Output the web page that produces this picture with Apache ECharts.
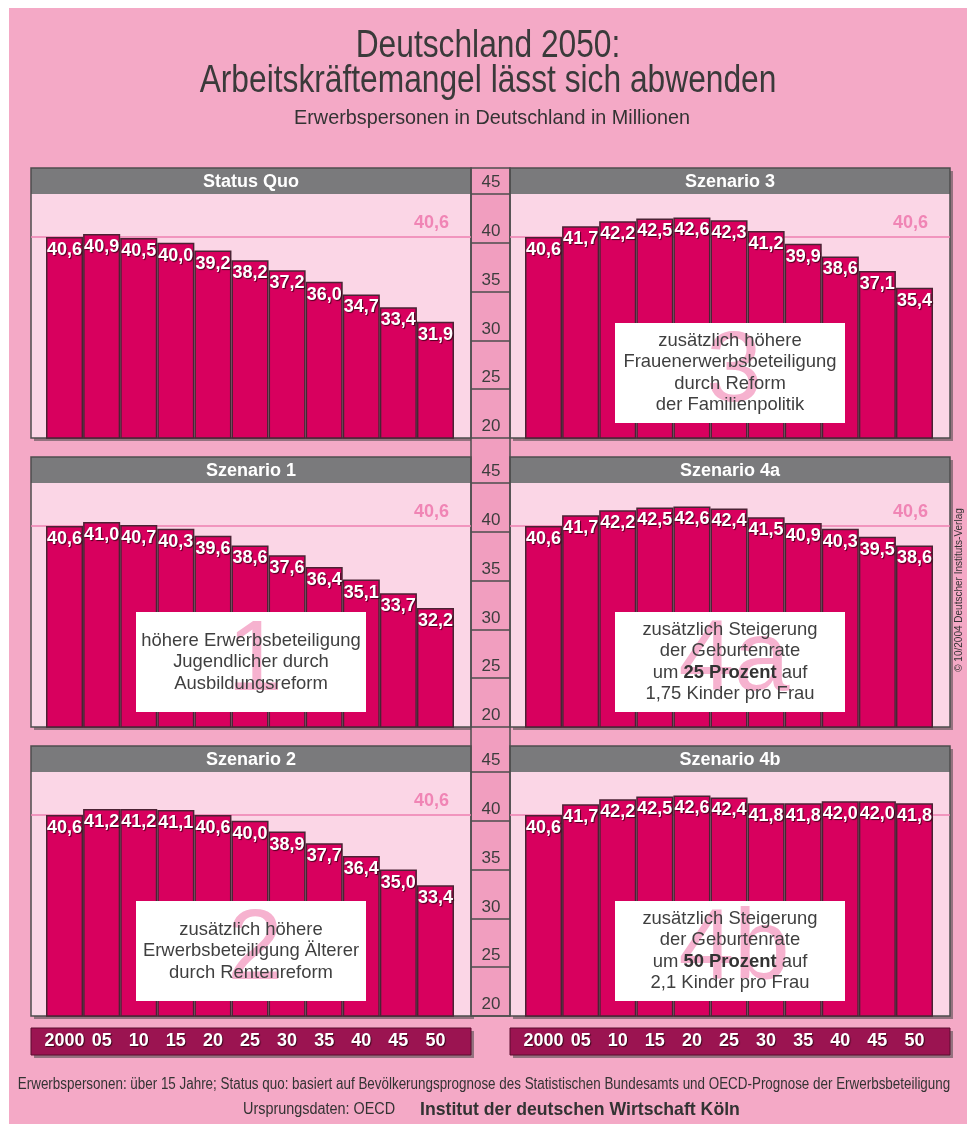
<!DOCTYPE html>
<html>
<head>
<meta charset="utf-8">
<title>Deutschland 2050</title>
<script src="https://cdn.jsdelivr.net/npm/echarts@6.0.0/dist/echarts.min.js"></script>
<style>
  html, body { margin: 0; padding: 0; background: #fff; }
  #chart { width: 967px; height: 1124px; }
</style>
</head>
<body>
<div id="chart"></div>
<script>
// x-Achse: Jahre
var years = ['2000', '05', '10', '15', '20', '25', '30', '35', '40', '45', '50'];
var refValue = 40.6;

// Erwerbspersonen in Deutschland in Millionen
var statusQuo  = [40.6, 40.9, 40.5, 40.0, 39.2, 38.2, 37.2, 36.0, 34.7, 33.4, 31.9];
var szenario1  = [40.6, 41.0, 40.7, 40.3, 39.6, 38.6, 37.6, 36.4, 35.1, 33.7, 32.2];
var szenario2  = [40.6, 41.2, 41.2, 41.1, 40.6, 40.0, 38.9, 37.7, 36.4, 35.0, 33.4];
var szenario3  = [40.6, 41.7, 42.2, 42.5, 42.6, 42.3, 41.2, 39.9, 38.6, 37.1, 35.4];
var szenario4a = [40.6, 41.7, 42.2, 42.5, 42.6, 42.4, 41.5, 40.9, 40.3, 39.5, 38.6];
var szenario4b = [40.6, 41.7, 42.2, 42.5, 42.6, 42.4, 41.8, 41.8, 42.0, 42.0, 41.8];

// Reihenfolge: links/rechts, zeilenweise
var panelTitles = ['Status Quo', 'Szenario 3', 'Szenario 1', 'Szenario 4a', 'Szenario 2', 'Szenario 4b'];
var panelData = [statusQuo, szenario3, szenario1, szenario4a, szenario2, szenario4b];
var panelMarks = ['', '3', '1', '4a', '2', '4b'];
var panelNotes = [
  null,
  ['zusätzlich höhere', 'Frauenerwerbsbeteiligung', 'durch Reform', 'der Familienpolitik'],
  ['höhere Erwerbsbeteiligung', 'Jugendlicher durch', 'Ausbildungsreform'],
  ['zusätzlich Steigerung', 'der Geburtenrate', 'um {b|25 Prozent} auf', '1,75 Kinder pro Frau'],
  ['zusätzlich höhere', 'Erwerbsbeteiligung Älterer', 'durch Rentenreform'],
  ['zusätzlich Steigerung', 'der Geburtenrate', 'um {b|50 Prozent} auf', '2,1 Kinder pro Frau']
];

// Layout
var COLS = [31, 510];
var ROWS = [168, 457, 746];
var PW = 440, HH = 26, PH = 244;
var BAR_PX = 408 / 11;
var XMIN = -0.5 - 15 / BAR_PX;
var XMAX = XMIN + PW / BAR_PX;

var FONT = '"Liberation Sans", Arial, sans-serif';

function fmt(v) { return v.toFixed(1).replace('.', ','); }

var chart = echarts.init(document.getElementById('chart'));

var grids = [], xAxes = [], yAxes = [], series = [];
var gfx = [];

// Hintergrund
gfx.push({ type: 'rect', z: -30, shape: { x: 9, y: 8, width: 958, height: 1116 }, style: { fill: '#f4a9c6' } });
// Mittlere Achsenspalte
gfx.push({ type: 'rect', z: -6, shape: { x: 471, y: 168, width: 39, height: 848 },
  style: { fill: '#f19ebf', stroke: '#4d4d4d', lineWidth: 1.5 } });

panelTitles.forEach(function (title, i) {
  var col = i % 2, row = Math.floor(i / 2);
  var px = COLS[col], py = ROWS[row];
  var isBottom = row === 2;
  var vals = panelData[i];

  grids.push({ left: px, top: py + HH, width: PW, height: PH });

  xAxes.push({
    gridIndex: i, type: 'value', min: XMIN, max: XMAX,
    show: isBottom,
    axisLine: { show: false, onZero: false }, axisTick: { show: false }, splitLine: { show: false },
    axisLabel: {
      show: isBottom,
      customValues: years.map(function (y, k) { return k; }),
      formatter: function (v) { return years[Math.round(v)]; },
      margin: 25, verticalAlign: 'middle',
      color: '#fff', fontWeight: 'bold', fontSize: 18, fontFamily: FONT,
      textShadowColor: 'rgba(40,0,15,0.8)', textShadowOffsetX: 1, textShadowOffsetY: 1, textShadowBlur: 1
    }
  });

  yAxes.push({
    gridIndex: i, type: 'value', min: 20, max: 45, interval: 5,
    position: col === 0 ? 'right' : 'left',
    show: col === 0,
    splitLine: { show: false },
    axisLine: { show: false, onZero: false },
    axisTick: { show: true, length: 39, lineStyle: { color: '#4d4d4d', width: 1.5 } },
    axisLabel: {
      margin: 20, align: 'center', verticalAlign: 'bottom', padding: [0, 0, 3, 0],
      color: '#3d3d3d', fontSize: 17, fontFamily: FONT
    }
  });

  series.push({
    type: 'bar', xAxisIndex: i, yAxisIndex: i, barWidth: BAR_PX,
    data: vals.map(function (v, k) { return [k, v]; }),
    itemStyle: { color: '#d8005e', borderColor: '#4a2334', borderWidth: 1.5 },
    label: {
      show: true, position: 'insideTop', distance: 4,
      color: '#fff', fontWeight: 'bold', fontSize: 18, fontFamily: FONT,
      textShadowColor: 'rgba(40,0,15,0.8)', textShadowOffsetX: 1, textShadowOffsetY: 1, textShadowBlur: 1,
      formatter: function (p) { return fmt(p.value[1]); }
    },
    markLine: {
      silent: true, symbol: 'none', z: 1, animation: false,
      data: [{ yAxis: refValue }],
      lineStyle: { color: '#ee7fb1', width: 1.5, type: 'solid' },
      label: {
        show: vals[vals.length - 1] < refValue,
        position: 'insideEndTop', formatter: fmt(refValue), padding: [0, 17, 0, 0],
        color: '#f085b5', fontWeight: 'bold', fontSize: 18, fontFamily: FONT
      }
    },
    animation: false
  });

  // Panelrahmen
  gfx.push({ type: 'rect', z: -10, shape: { x: px + 3, y: py + 3, width: PW, height: HH + PH }, style: { fill: 'rgba(70,70,70,0.55)' } });
  gfx.push({ type: 'rect', z: -9, shape: { x: px, y: py + HH, width: PW, height: PH }, style: { fill: '#fbd6e6' } });
  gfx.push({ type: 'rect', z: -9, shape: { x: px, y: py, width: PW, height: HH }, style: { fill: '#7a7a7c' } });
  gfx.push({ type: 'rect', z: -5, shape: { x: px, y: py, width: PW, height: HH + PH }, style: { fill: null, stroke: '#4d4d4d', lineWidth: 1.5 } });
  gfx.push({ type: 'text', z: -5, style: { x: px + PW / 2, y: py + HH / 2 + 1, text: title, fill: '#fff',
    font: 'bold 18px ' + FONT, align: 'center', verticalAlign: 'middle' } });

  // Erläuterungskasten
  if (panelNotes[i]) {
    var cx = px + 220, cy = py + 205;
    gfx.push({ type: 'rect', z: 10, shape: { x: cx - 115, y: cy - 50, width: 230, height: 100 }, style: { fill: '#fff' } });
    gfx.push({ type: 'text', z: 11, style: { x: cx + 4, y: cy, text: panelMarks[i], fill: '#f6b2cf',
      font: '100px ' + FONT, align: 'center', verticalAlign: 'middle' } });
    gfx.push({ type: 'text', z: 12, x: cx, y: cy, scaleX: 0.97, style: { x: 0, y: 0, text: panelNotes[i].join('\n'), fill: '#3f3f3f',
      font: '19px ' + FONT, lineHeight: 21.5, align: 'center', verticalAlign: 'middle',
      rich: { b: { fontWeight: 'bold', fontSize: 19, fontFamily: FONT, fill: '#333', lineHeight: 21.5 } } } });
  }
});

// Jahresleisten
COLS.forEach(function (px) {
  gfx.push({ type: 'rect', z: -10, shape: { x: px + 3, y: 1031, width: PW, height: 27 }, style: { fill: 'rgba(70,70,70,0.55)' } });
  gfx.push({ type: 'rect', z: -9, shape: { x: px, y: 1028, width: PW, height: 27 }, style: { fill: '#9b1451', stroke: '#5a0c2f', lineWidth: 1 } });
});

// Titel und Fußnoten (schmal gesetzt über scaleX)
function label(x, y, text, font, align, sx, extra) {
  var st = { x: 0, y: 0, text: text, fill: '#333', font: font, align: align, verticalAlign: 'middle' };
  if (extra) { for (var k in extra) { st[k] = extra[k]; } }
  return { type: 'text', z: 5, x: x, y: y, scaleX: sx, style: st };
}
gfx.push(label(488, 64, 'Deutschland 2050:\nArbeitskräftemangel lässt sich abwenden', '38px ' + FONT, 'center', 0.835,
  { fill: '#3a3a3a', lineHeight: 35 }));
gfx.push(label(492, 119, 'Erwerbspersonen in Deutschland in Millionen', '19.8px ' + FONT, 'center', 1));
gfx.push(label(484, 1085,
  'Erwerbspersonen: über 15 Jahre; Status quo: basiert auf Bevölkerungsprognose des Statistischen Bundesamts und OECD-Prognose der Erwerbsbeteiligung',
  '16px ' + FONT, 'center', 0.838));
gfx.push(label(243, 1110, 'Ursprungsdaten: OECD', '16px ' + FONT, 'left', 0.9));
gfx.push(label(420, 1110, 'Institut der deutschen Wirtschaft Köln', 'bold 19px ' + FONT, 'left', 0.93));
gfx.push({ type: 'text', z: 5, rotation: Math.PI / 2, x: 959, y: 590, style: { x: 0, y: 0, text: '© 10/2004 Deutscher Instituts-Verlag',
  fill: '#333', font: '10px ' + FONT, align: 'center', verticalAlign: 'middle' } });

chart.setOption({
  backgroundColor: '#fff',
  animation: false,
  grid: grids,
  xAxis: xAxes,
  yAxis: yAxes,
  series: series,
  graphic: { elements: gfx }
});
</script>
</body>
</html>
